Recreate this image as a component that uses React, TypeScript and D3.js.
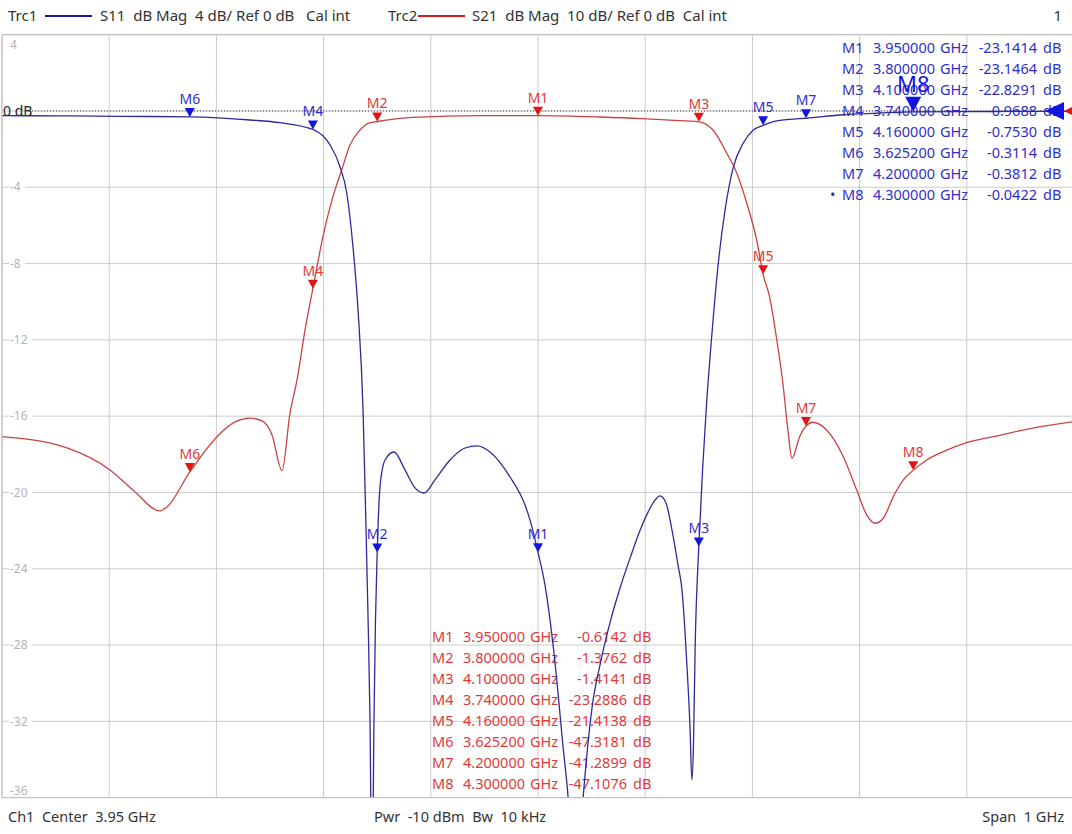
import * as d3 from "d3";

// VNA screen: S11 (Trc1, 4 dB/div) and S21 (Trc2, 10 dB/div), center 3.95 GHz, span 1 GHz

const s11Freq = [
  3.45, 3.5041, 3.5601, 3.6252, 3.6813, 3.7093, 3.74, 3.756, 3.7653, 3.7716, 3.7774, 3.7821,
  3.7868, 3.7896, 3.7915, 3.7933, 3.7952, 3.797, 3.7984, 3.8, 3.8026, 3.8073, 3.8157, 3.8259,
  3.8353, 3.8437, 3.8539, 3.8679, 3.8819, 3.8931, 3.9052, 3.9239, 3.9379, 3.9425, 3.95, 3.9565,
  3.9612, 3.9659, 3.9734, 3.9781, 3.9846, 3.9921, 4.0005, 4.008, 4.0173, 4.0266, 4.036, 4.0453,
  4.0528, 4.0593, 4.0638, 4.0694, 4.075, 4.0806, 4.0843, 4.0888, 4.0919, 4.0935, 4.095, 4.0966,
  4.1, 4.1036, 4.1073, 4.112, 4.1182, 4.1245, 4.1322, 4.1415, 4.1509, 4.16, 4.168, 4.1757, 4.188,
  4.2, 4.2317, 4.269, 4.3, 4.3437, 4.3996, 4.45,
];
const s11Db = [
  -0.246, -0.257, -0.278, -0.3114, -0.472, -0.613, -0.9688, -1.78, -2.92, -4.3, -7.11, -10.43,
  -15.67, -21.96, -26.68, -31.93, -42, -31.93, -26.68, -23.1464, -19.71, -18.3, -17.88, -18.82,
  -19.76, -20.03, -19.34, -18.3, -17.67, -17.56, -17.88, -19.19, -20.66, -21.44, -23.1414, -24.85,
  -26.68, -28.94, -33.34, -36.0, -42, -36.0, -31.25, -29.0, -26.8, -25.0, -23.43, -21.97,
  -21.02, -20.39, -20.18, -20.55, -21.97, -23.8, -25.1, -28.94, -32.45, -35.07, -33.34, -28.1,
  -22.8291, -18.72, -15.31, -11.85, -7.97, -5.19, -2.94, -1.68, -1.0, -0.753, -0.58, -0.49, -0.43,
  -0.3812, -0.21, -0.105, -0.0422, -0.03, -0.025, -0.02,
];

const s21Freq = [
  3.45, 3.5106, 3.5507, 3.5722, 3.5974, 3.6039, 3.6252, 3.6506, 3.6674, 3.6813, 3.6925, 3.7019,
  3.7112, 3.7187, 3.7252, 3.7327, 3.74, 3.7494, 3.7587, 3.7669, 3.7746, 3.784, 3.7933, 3.8,
  3.8334, 3.8959, 3.95, 4.0078, 4.047, 4.0731, 4.1, 4.1133, 4.126, 4.1354, 4.1447, 4.154, 4.16,
  4.166, 4.1723, 4.1784, 4.1831, 4.187, 4.194, 4.2, 4.2063, 4.2193, 4.2348, 4.2473, 4.2566,
  4.2644, 4.2721, 4.2815, 4.2908, 4.3, 4.3126, 4.3281, 4.3499, 4.3747, 4.4059, 4.45,
];
const s21Db = [
  -42.69, -44.17, -47.05, -49.67, -52.42, -51.9, -47.3181, -42.69, -40.76, -40.27, -40.63, -42.46,
  -47.14, -39.58, -35.26, -28.7, -23.2886, -16.47, -11.23, -7.73, -4.46, -2.49, -1.53, -1.3762,
  -0.826, -0.616, -0.6142, -0.79, -1.0, -1.2, -1.4141, -2.49, -5.5, -8.13, -12.06, -16.91, -21.4138,
  -24.34, -29.58, -35.65, -41.81, -45.52, -42.69, -41.2899, -40.8, -41.81, -45.31, -49.67, -52.95,
  -54.04, -53.38, -50.55, -48.36, -47.1076, -45.74, -44.65, -43.47, -42.69, -41.72, -40.72,
];

const markerNames = ["M1", "M2", "M3", "M4", "M5", "M6", "M7", "M8"];
const markerFreq = [3.95, 3.8, 4.1, 3.74, 4.16, 3.6252, 4.2, 4.3];
const s11Markers = [-23.1414, -23.1464, -22.8291, -0.9688, -0.753, -0.3114, -0.3812, -0.0422];
const s21Markers = [-0.6142, -1.3762, -1.4141, -23.2886, -21.4138, -47.3181, -41.2899, -47.1076];

const freqTicks = d3.range(0, 11).map((i) => 3.45 + i * 0.1);
const dbTicks = d3.range(0, 11).map((i) => 4 - i * 4);

const W = 1072;
const H = 834;
const FONT = "'Noto Sans', sans-serif";

const BLUE_TRACE = "#2c2c98";
const BLUE_MARK = "#1414e0";
const BLUE_TEXT = "#2f2fc8";
const RED_TRACE = "#c84444";
const RED_MARK = "#e41414";
const RED_TEXT = "#e03a3a";
const GRID = "#cbcbcb";

export default function App() {
  const x = d3.scaleLinear().domain([3.45, 4.45]).range([2, 1074]);
  const y11 = d3.scaleLinear().domain([4, -36]).range([34.7, 797.6]);
  const y21 = d3.scaleLinear().domain([10, -90]).range([34.7, 797.6]);

  const line11 = d3
    .line<number>()
    .x((_, i) => x(s11Freq[i]))
    .y((d) => y11(d))
    .curve(d3.curveMonotoneX);
  const line21 = d3
    .line<number>()
    .x((_, i) => x(s21Freq[i]))
    .y((d) => y21(d))
    .curve(d3.curveMonotoneX);

  const tri = (cx: number, cy: number, w: number, h: number) =>
    `M${cx},${cy} L${cx - w / 2},${cy - h} L${cx + w / 2},${cy - h} Z`;

  const [top, bottom] = y11.range();

  // marker readout tables
  const table = (x0: number, y0: number, vals: number[], color: string, dot: boolean) =>
    markerNames.map((m, i) => {
      const yy = y0 + i * 21;
      return (
        <g key={m} fill={color} fontSize={14.5}>
          {dot && i === 7 && <text x={x0 - 12} y={yy}>•</text>}
          <text x={x0} y={yy}>{m}</text>
          <text x={x0 + 93} y={yy} textAnchor="end">{markerFreq[i].toFixed(6)}</text>
          <text x={x0 + 98} y={yy}>GHz</text>
          <text x={x0 + 195} y={yy} textAnchor="end">{vals[i].toFixed(4)}</text>
          <text x={x0 + 201} y={yy}>dB</text>
        </g>
      );
    });

  return (
    <div style={{ position: "absolute", left: 0, top: 0, width: W, height: H, background: "#fff" }}>
      <svg width={W} height={H} style={{ display: "block", fontFamily: FONT }}>
        <defs>
          <clipPath id="plot">
            <rect x={2} y={top} width={W - 2} height={bottom - top} />
          </clipPath>
        </defs>
        <rect width={W} height={H} fill="#fff" />

        {/* header */}
        <g fontSize={15} fill="#333">
          <text x={8} y={21}>Trc1</text>
          <line x1={45} x2={92} y1={16} y2={16} stroke="#1a1aa8" strokeWidth={2} />
          <text x={100} y={21} xmlSpace="preserve">{"S11  dB Mag  4 dB/ Ref 0 dB   Cal int"}</text>
          <text x={388} y={21}>Trc2</text>
          <line x1={418} x2={465} y1={16} y2={16} stroke="#d01c1c" strokeWidth={2} />
          <text x={472} y={21} xmlSpace="preserve">{"S21  dB Mag  10 dB/ Ref 0 dB  Cal int"}</text>
          <text x={1062} y={21} textAnchor="end">1</text>
        </g>

        {/* grid */}
        <g stroke={GRID} strokeWidth={1}>
          {freqTicks.map((f) => (
            <line key={f} x1={x(f)} x2={x(f)} y1={top} y2={bottom} />
          ))}
          {dbTicks.map((d) => (
            <line key={d} x1={2} x2={W} y1={y11(d)} y2={y11(d)} />
          ))}
        </g>

        {/* y labels */}
        <g fontSize={12} fill="#b4b4b4">
          {dbTicks
            .filter((d) => d !== 0)
            .map((d) => {
              const yy = d === 4 ? top + 10 : d === -36 ? bottom - 7 : y11(d);
              const label = String(d);
              return (
                <g key={d}>
                  <rect x={9} y={yy - 7} width={label.length * 7 + 2} height={14} fill="#fff" />
                  <text x={10} y={yy} dy="0.35em">{label}</text>
                </g>
              );
            })}
        </g>

        {/* reference line */}
        <line x1={32} x2={W} y1={y11(0)} y2={y11(0)} stroke="#444" strokeWidth={1} strokeDasharray="1,2" />
        <text x={3} y={y11(0)} dy="0.35em" fontSize={14} fill="#222">0 dB</text>

        {/* marker tables */}
        {table(842, 53, s11Markers, BLUE_TEXT, true)}
        {table(432, 642, s21Markers, RED_TEXT, false)}

        {/* traces */}
        <g clipPath="url(#plot)" fill="none" strokeWidth={1.3}>
          <path d={line21(s21Db) ?? ""} stroke={RED_TRACE} />
          <path d={line11(s11Db) ?? ""} stroke={BLUE_TRACE} />
        </g>

        {/* S21 markers */}
        {markerNames.map((m, i) => {
          const cx = x(markerFreq[i]);
          const cy = y21(s21Markers[i]);
          return (
            <g key={"r" + m}>
              <path d={tri(cx, cy, 10, 9)} fill={RED_MARK} />
              <text x={cx} y={cy - 13} textAnchor="middle" fontSize={14} fill={RED_TEXT}>{m}</text>
            </g>
          );
        })}

        {/* S11 markers (M8 is the active one, drawn large) */}
        {markerNames.map((m, i) => {
          const cx = x(markerFreq[i]);
          const cy = y11(s11Markers[i]);
          const big = i === 7;
          return (
            <g key={"b" + m}>
              <path d={tri(cx, cy, big ? 16 : 10, big ? 15 : 9)} fill={BLUE_MARK} />
              <text
                x={cx}
                y={cy - (big ? 20 : 13)}
                textAnchor="middle"
                fontSize={big ? 22 : 14}
                fill={big ? BLUE_MARK : BLUE_TEXT}
              >
                {m}
              </text>
            </g>
          );
        })}

        {/* reference level arrows */}
        <path d={`M1045,${y11(0)} L1064,${y11(0) - 9} L1064,${y11(0) + 9} Z`} fill={BLUE_MARK} />
        <path d={`M1064,${y11(0)} L1082,${y11(0) - 9} L1082,${y11(0) + 9} Z`} fill={RED_MARK} />

        {/* border */}
        <line x1={2} x2={W} y1={top} y2={top} stroke="#bdbdbd" />
        <line x1={2} x2={W} y1={bottom} y2={bottom} stroke="#bdbdbd" />
        <line x1={2} x2={2} y1={top} y2={bottom} stroke="#bdbdbd" />

        {/* footer */}
        <g fontSize={14.5} fill="#333">
          <text x={8} y={822} xmlSpace="preserve">{"Ch1  Center  3.95 GHz"}</text>
          <text x={374} y={822} xmlSpace="preserve">{"Pwr  -10 dBm  Bw  10 kHz"}</text>
          <text x={1064} y={822} textAnchor="end" xmlSpace="preserve">{"Span  1 GHz"}</text>
        </g>
      </svg>
    </div>
  );
}
